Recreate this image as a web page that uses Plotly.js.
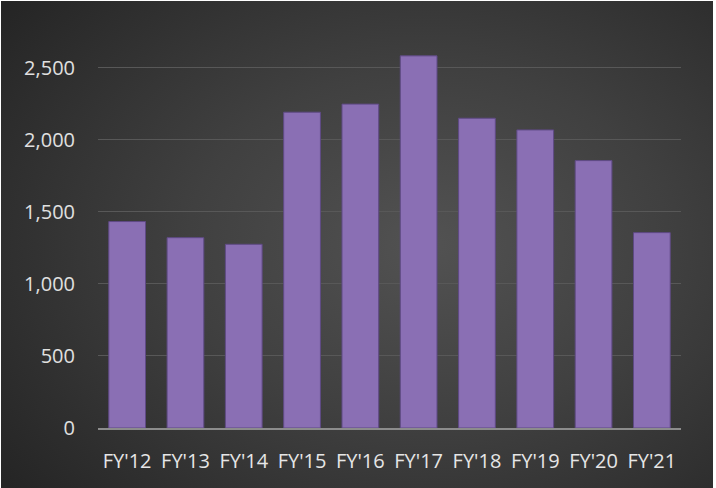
<!DOCTYPE html>
<html>
<head>
<meta charset="utf-8">
<script src="https://cdn.plot.ly/plotly-3.0.1.min.js"></script>
<style>
  html, body { margin: 0; padding: 0; background: #ffffff; width: 716px; height: 488px; overflow: hidden; }
  #chart {
    position: absolute; left: 1px; top: 1px; width: 712px; height: 487px;
    background: radial-gradient(ellipse 75% 80% at 60% 50%, #525252 0%, #404040 45%, #252525 100%);
  }
</style>
</head>
<body>
<div id="chart"></div>
<script>
const categories = ["FY'12", "FY'13", "FY'14", "FY'15", "FY'16", "FY'17", "FY'18", "FY'19", "FY'20", "FY'21"];
const values = [1433, 1321, 1275, 2192, 2248, 2583, 2150, 2069, 1856, 1356];
const yTickValues = [0, 500, 1000, 1500, 2000, 2500];
const yTickLabels = ["0", "500", "1,000", "1,500", "2,000", "2,500"];

const trace = {
  type: 'bar',
  x: categories,
  y: values,
  marker: {
    color: '#8a6fb4',
    line: { color: '#5f4a85', width: 1 }
  },
  hoverinfo: 'x+y'
};

const layout = {
  width: 712,
  height: 487,
  margin: { l: 97, r: 32, t: 38, b: 60 },
  paper_bgcolor: 'rgba(0,0,0,0)',
  plot_bgcolor: 'rgba(0,0,0,0)',
  bargap: 0.37,
  showlegend: false,
  font: { family: 'Open Sans, sans-serif', color: '#d9d9d9', size: 20 },
  xaxis: {
    type: 'category',
    showgrid: false,
    showline: true,
    linecolor: '#8c8c8c',
    linewidth: 2,
    ticks: '',
    ticklen: 0,
    ticklabelstandoff: 14,
    tickfont: { family: 'Open Sans, sans-serif', size: 20, color: '#e6e6e6' },
    automargin: false
  },
  yaxis: {
    range: [0, 2700],
    tickvals: yTickValues,
    ticktext: yTickLabels,
    showgrid: true,
    gridcolor: '#585858',
    gridwidth: 1,
    zeroline: false,
    showline: false,
    ticks: '',
    ticklabelstandoff: 22,
    tickfont: { family: 'Open Sans, sans-serif', size: 20, color: '#e0e0e0' },
    automargin: false
  }
};

Plotly.newPlot('chart', [trace], layout, { displayModeBar: false, staticPlot: true });
</script>
</body>
</html>
